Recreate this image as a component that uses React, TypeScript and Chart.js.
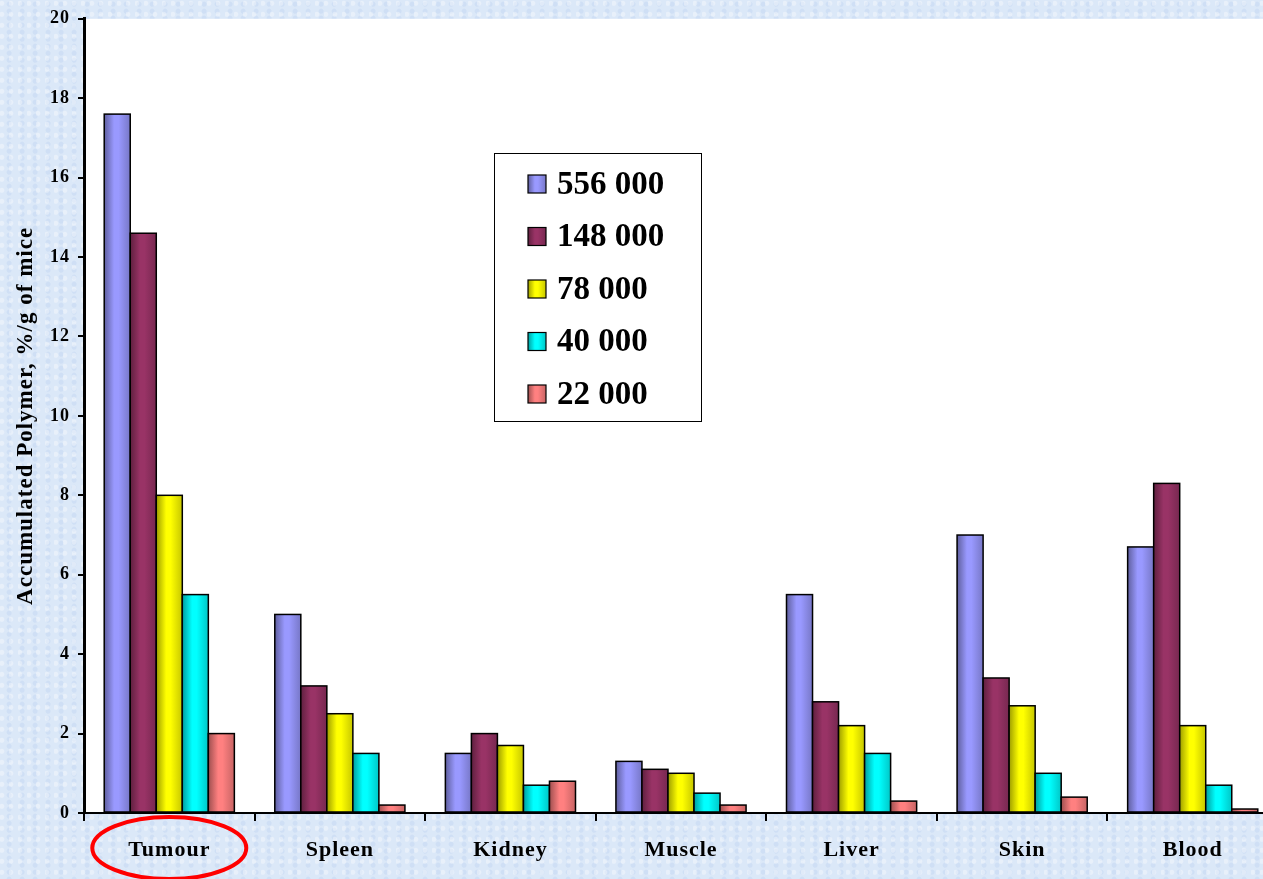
import React, { useEffect, useRef } from "react";
import { Chart, registerables } from "chart.js";

Chart.register(...registerables);

const categories = ["Tumour", "Spleen", "Kidney", "Muscle", "Liver", "Skin", "Blood"];
const seriesLabels = ["556 000", "148 000", "78 000", "40 000", "22 000"];
const s556 = [17.6, 5.0, 1.5, 1.3, 5.5, 7.0, 6.7];
const s148 = [14.6, 3.2, 2.0, 1.1, 2.8, 3.4, 8.3];
const s78 = [8.0, 2.5, 1.7, 1.0, 2.2, 2.7, 2.2];
const s40 = [5.5, 1.5, 0.7, 0.5, 1.5, 1.0, 0.7];
const s22 = [2.0, 0.2, 0.8, 0.2, 0.3, 0.4, 0.1];
const seriesValues = [s556, s148, s78, s40, s22];
const seriesColors = ["#9999ff", "#993366", "#ffff00", "#00ffff", "#ff8080"];
const yMin = 0;
const yMax = 20;
const yStep = 2;
const yTitle = "Accumulated Polymer, %/g of mice";

const FONT = "'Liberation Serif', 'Times New Roman', serif";

function shade(hex: string, f: number): string {
  const n = parseInt(hex.slice(1), 16);
  const r = (n >> 16) & 255, g = (n >> 8) & 255, b = n & 255;
  const m = (c: number) => Math.max(0, Math.min(255, Math.round(c * f)));
  return `rgb(${m(r)},${m(g)},${m(b)})`;
}

function gradFill(ctx: CanvasRenderingContext2D, color: string, left: number, w: number) {
  const g = ctx.createLinearGradient(left, 0, left + w, 0);
  g.addColorStop(0, shade(color, 0.62));
  g.addColorStop(0.38, color);
  g.addColorStop(0.55, color);
  g.addColorStop(1, shade(color, 0.78));
  return g;
}

const backgroundPlugin = {
  id: "plotBg",
  beforeDraw(chart: any) {
    const { ctx, chartArea } = chart;
    (ctx as any).letterSpacing = "1px";
    ctx.save();
    ctx.fillStyle = "#ffffff";
    ctx.fillRect(chartArea.left, chartArea.top, chartArea.right - chartArea.left, chartArea.bottom - chartArea.top);
    ctx.restore();
  },
};

const barShadePlugin = {
  id: "barShade",
  afterDatasetsDraw(chart: any) {
    const ctx: CanvasRenderingContext2D = chart.ctx;
    ctx.save();
    chart.data.datasets.forEach((ds: any, i: number) => {
      const meta = chart.getDatasetMeta(i);
      meta.data.forEach((bar: any) => {
        const { x, y, base, width } = bar.getProps(["x", "y", "base", "width"], true);
        const left = x - width / 2;
        const top = Math.min(y, base);
        const h = Math.abs(base - y);
        ctx.fillStyle = gradFill(ctx, ds.backgroundColor, left, width);
        ctx.fillRect(left, top, width, h);
        ctx.lineWidth = 1.5;
        ctx.strokeStyle = "#000";
        ctx.strokeRect(left, top, width, h);
      });
    });
    ctx.restore();
  },
};

const legendPlugin = {
  id: "boxLegend",
  afterDraw(chart: any) {
    const ctx: CanvasRenderingContext2D = chart.ctx;
    ctx.save();
    (ctx as any).letterSpacing = "0px";
    const bx = 494, by = 153, bw = 207, bh = 268;
    ctx.fillStyle = "#fff";
    ctx.fillRect(bx, by, bw, bh);
    ctx.lineWidth = 1;
    ctx.strokeStyle = "#000";
    ctx.strokeRect(bx + 0.5, by + 0.5, bw, bh);
    chart.data.datasets.forEach((ds: any, i: number) => {
      const cy = 184 + i * 52.5;
      const mx = 528, ms = 18;
      ctx.fillStyle = gradFill(ctx, ds.backgroundColor, mx, ms);
      ctx.fillRect(mx, cy - ms / 2, ms, ms);
      ctx.lineWidth = 1.2;
      ctx.strokeStyle = "#000";
      ctx.strokeRect(mx, cy - ms / 2, ms, ms);
      ctx.fillStyle = "#000";
      ctx.font = `bold 33px ${FONT}`;
      ctx.textBaseline = "middle";
      ctx.textAlign = "left";
      ctx.fillText(ds.label, 557, cy + 1);
    });
    ctx.restore();
  },
};

const ellipsePlugin = {
  id: "circleTumour",
  afterDraw(chart: any) {
    const ctx: CanvasRenderingContext2D = chart.ctx;
    const cx = chart.scales.x.getPixelForValue(0);
    ctx.save();
    ctx.beginPath();
    ctx.ellipse(cx, 848, 77, 31, 0, 0, Math.PI * 2);
    ctx.lineWidth = 4;
    ctx.strokeStyle = "#ff0000";
    ctx.stroke();
    ctx.restore();
    (ctx as any).letterSpacing = "0px";
  },
};

export default function App() {
  const ref = useRef<HTMLCanvasElement>(null);
  useEffect(() => {
    document.body.style.margin = "0";
    const chart = new Chart(ref.current as HTMLCanvasElement, {
      type: "bar",
      data: {
        labels: categories,
        datasets: seriesValues.map((vals, i) => ({
          label: seriesLabels[i],
          data: vals,
          backgroundColor: seriesColors[i],
          borderColor: "#000",
          borderWidth: 1.5,
          categoryPercentage: 0.763,
          barPercentage: 1,
        })),
      },
      options: {
        responsive: false,
        animation: false,
        devicePixelRatio: 1,
        layout: { padding: { top: 17, left: 0, right: 0, bottom: 0 } },
        plugins: {
          legend: { display: false },
          tooltip: { enabled: false },
        },
        scales: {
          x: {
            ticks: { color: "#000", font: { family: FONT, size: 22, weight: "bold" }, padding: 16 },
            grid: { display: true, drawOnChartArea: false, drawTicks: true, tickLength: 8, color: "#000", lineWidth: 2, offset: true },
            border: { display: true, color: "#000", width: 2 },
            afterFit: (s: any) => { s.height = 66; },
          },
          y: {
            min: yMin,
            max: yMax,
            ticks: { stepSize: yStep, color: "#000", font: { family: FONT, size: 18, weight: "bold" }, padding: 8 },
            grid: { display: true, drawOnChartArea: false, drawTicks: true, tickLength: 6, color: "#000", lineWidth: 2 },
            border: { display: true, color: "#000", width: 3 },
            title: {
              display: true,
              text: yTitle,
              color: "#000",
              font: { family: FONT, size: 23, weight: "bold" },
              padding: { top: 12, bottom: 0 },
            },
            afterFit: (s: any) => { s.width = 84; },
          },
        },
      } as any,
      plugins: [backgroundPlugin, barShadePlugin, legendPlugin, ellipsePlugin],
    });
    return () => chart.destroy();
  }, []);
  return (
    <div
      style={{
        width: 1263,
        height: 879,
        overflow: "hidden",
        position: "relative",
        backgroundColor: "#dbe8f8",
        backgroundImage:
          "radial-gradient(circle at 20% 30%, rgba(255,255,255,0.35) 0 2px, transparent 3px), radial-gradient(circle at 70% 60%, rgba(190,210,240,0.4) 0 2px, transparent 3px)",
        backgroundSize: "9px 11px, 13px 7px",
      }}
    >
      <canvas ref={ref} width={1278} height={879} style={{ display: "block", width: 1278, height: 879 }} />
    </div>
  );
}
